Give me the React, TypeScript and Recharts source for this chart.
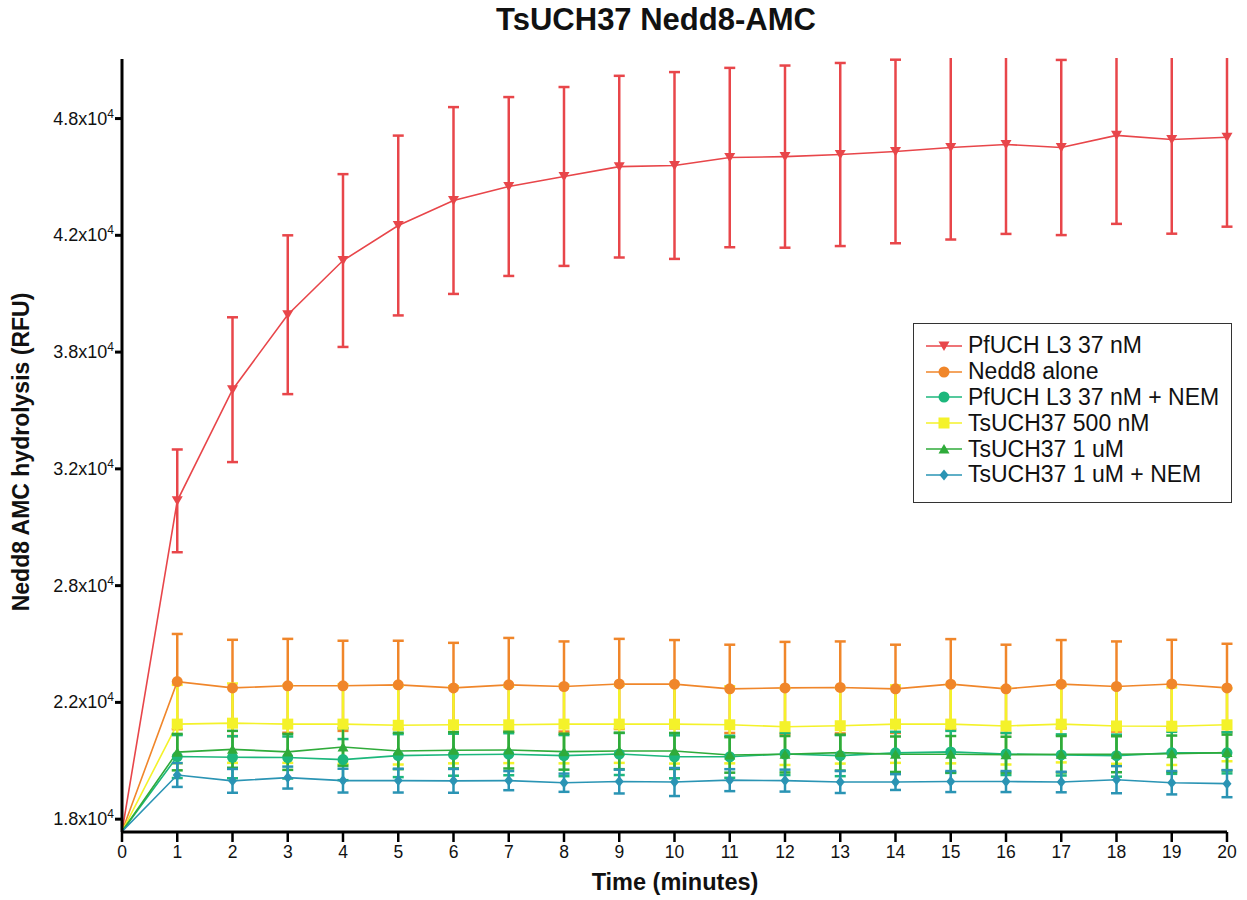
import React from 'react';
import { LineChart, Line, XAxis, YAxis, ErrorBar } from 'recharts';

// time points (minutes)
const minutes = [0, 1, 2, 3, 4, 5, 6, 7, 8, 9, 10, 11, 12, 13, 14, 15, 16, 17, 18, 19, 20];

// PfUCH L3 37 nM
const pfuchMean = [17470, 31630, 36390, 39600, 41920, 43420, 44490, 45090, 45520, 45940, 45990, 46330, 46370, 46460, 46590, 46760, 46890, 46760, 47280, 47100, 47200];
const pfuchSd = [null, 2200, 3100, 3400, 3700, 3850, 4000, 3830, 3830, 3890, 4000, 3840, 3900, 3920, 3930, 3940, 3830, 3750, 3790, 4030, 3830];

// Nedd8 alone
const nedd8Mean = [17470, 23890, 23620, 23710, 23710, 23750, 23620, 23750, 23680, 23790, 23780, 23580, 23620, 23640, 23580, 23780, 23580, 23780, 23680, 23790, 23620];
const nedd8Sd = [null, 2040, 2060, 2010, 1930, 1890, 1930, 2010, 1930, 1930, 1890, 1890, 1970, 1970, 1890, 1930, 1890, 1890, 1930, 1890, 1890];

// PfUCH L3 37 nM + NEM
const pfuchNemMean = [17470, 20680, 20650, 20640, 20550, 20720, 20760, 20780, 20720, 20790, 20670, 20670, 20790, 20720, 20840, 20880, 20790, 20750, 20720, 20840, 20840];
const pfuchNemSd = [null, 920, 900, 900, 880, 920, 900, 900, 880, 900, 920, 900, 900, 880, 900, 900, 900, 880, 900, 900, 880];

// TsUCH37 500 nM
const ts500Mean = [17470, 22070, 22110, 22070, 22070, 22020, 22040, 22040, 22070, 22070, 22070, 22040, 21960, 22000, 22070, 22070, 21990, 22070, 21990, 21980, 22040];
const ts500Sd = [null, 1680, 1700, 1660, 1700, 1680, 1650, 1640, 1680, 1660, 1690, 1650, 1640, 1620, 1660, 1680, 1650, 1640, 1620, 1660, 1560];

// TsUCH37 1 uM
const ts1Mean = [17470, 20870, 20990, 20880, 21090, 20920, 20950, 20960, 20890, 20920, 20920, 20750, 20780, 20850, 20780, 20780, 20760, 20780, 20780, 20800, 20850];
const ts1Sd = [null, 780, 790, 770, 800, 780, 780, 790, 770, 780, 770, 760, 780, 770, 760, 780, 770, 780, 770, 780, 770];

// TsUCH37 1 uM + NEM
const ts1NemMean = [17470, 19890, 19640, 19780, 19650, 19650, 19640, 19650, 19560, 19610, 19590, 19670, 19650, 19590, 19590, 19610, 19610, 19590, 19690, 19560, 19520];
const ts1NemSd = [null, 510, 510, 470, 510, 510, 510, 410, 390, 510, 600, 470, 470, 470, 340, 450, 450, 440, 580, 500, 580];

const yTicks = [18000, 23000, 28000, 33000, 38000, 43000, 48000];
const yTickLabels = ['1.8', '2.2', '2.8', '3.2', '3.8', '4.2', '4.8'];

const chartData = minutes.map((t, i) => ({
  t,
  pfuch: pfuchMean[i],
  pfuchSd: pfuchSd[i],
  nedd8: nedd8Mean[i],
  nedd8Sd: nedd8Sd[i],
  pfuchNem: pfuchNemMean[i],
  pfuchNemSd: pfuchNemSd[i],
  ts500: ts500Mean[i],
  ts500Sd: ts500Sd[i],
  ts1: ts1Mean[i],
  ts1Sd: ts1Sd[i],
  ts1Nem: ts1NemMean[i],
  ts1NemSd: ts1NemSd[i],
}));

const FONT = '"Liberation Sans", Arial, Helvetica, sans-serif';

const RED = '#e8464a';
const ORANGE = '#f0862a';
const TEAL = '#1cb77c';
const YELLOW = '#f4f22a';
const GREEN = '#2fab3a';
const BLUE = '#2a94b4';

type Shape = 'down' | 'circle' | 'square' | 'up' | 'diamond';

function marker(shape: Shape, cx: number, cy: number, color: string, key?: string | number) {
  switch (shape) {
    case 'down':
      return <path key={key} d={`M${cx - 5.5},${cy - 4.5}L${cx + 5.5},${cy - 4.5}L${cx},${cy + 5}Z`} fill={color} />;
    case 'up':
      return <path key={key} d={`M${cx - 5.5},${cy + 4.5}L${cx + 5.5},${cy + 4.5}L${cx},${cy - 5}Z`} fill={color} />;
    case 'square':
      return <rect key={key} x={cx - 5.5} y={cy - 5.5} width={11} height={11} fill={color} />;
    case 'diamond':
      return <path key={key} d={`M${cx},${cy - 5.5}L${cx + 4.5},${cy}L${cx},${cy + 5.5}L${cx - 4.5},${cy}Z`} fill={color} />;
    default:
      return <circle key={key} cx={cx} cy={cy} r={5.5} fill={color} />;
  }
}

// no symbol at t = 0 (the curves start on the axis corner)
const dotFor = (shape: Shape, color: string) => (props: any) => {
  const { cx, cy, index } = props;
  if (index === 0 || cx == null || cy == null) return <g key={`d-${index}`} />;
  return marker(shape, cx, cy, color, `d-${index}`);
};

const legendItems: { name: string; color: string; shape: Shape }[] = [
  { name: 'PfUCH L3 37 nM', color: RED, shape: 'down' },
  { name: 'Nedd8 alone', color: ORANGE, shape: 'circle' },
  { name: 'PfUCH L3 37 nM + NEM', color: TEAL, shape: 'circle' },
  { name: 'TsUCH37 500 nM', color: YELLOW, shape: 'square' },
  { name: 'TsUCH37 1 uM', color: GREEN, shape: 'up' },
  { name: 'TsUCH37 1 uM + NEM', color: BLUE, shape: 'diamond' },
];

function LegendBox() {
  return (
    <div
      style={{
        position: 'absolute',
        left: 913,
        top: 323,
        width: 319,
        height: 180,
        boxSizing: 'border-box',
        border: '1.5px solid #333',
        background: '#fff',
        paddingTop: 9,
        fontFamily: FONT,
      }}
    >
      {legendItems.map(it => (
        <div key={it.name} style={{ display: 'flex', alignItems: 'center', height: 25.8 }}>
          <svg width={54} height={16} style={{ marginLeft: 10, flex: 'none' }}>
            <line x1={2} y1={8} x2={38} y2={8} stroke={it.color} strokeWidth={1.5} />
            {marker(it.shape, 20, 8, it.color)}
          </svg>
          <span style={{ fontSize: 23, color: '#111', lineHeight: '23px', whiteSpace: 'nowrap', marginLeft: -10 }}>{it.name}</span>
        </div>
      ))}
    </div>
  );
}

function YTick(props: any) {
  const { x, y, payload } = props;
  const idx = yTicks.indexOf(payload.value);
  const label = idx >= 0 ? yTickLabels[idx] : '';
  return (
    <text x={x} y={y + 6} textAnchor="end" fontSize={18} fill="#111" fontFamily={FONT}>
      {label}x10
      <tspan dy={-7} fontSize={12}>4</tspan>
    </text>
  );
}

function XTick(props: any) {
  const { x, y, payload } = props;
  return (
    <text x={x} y={y + 14} textAnchor="middle" fontSize={17.5} fill="#111" fontFamily={FONT}>
      {payload.value}
    </text>
  );
}

export default function App() {
  return (
    <div style={{ position: 'absolute', left: 0, top: 0, width: 1247, height: 900, background: '#fff', fontFamily: FONT }}>
      <LineChart
        width={1247}
        height={900}
        data={chartData}
        margin={{ top: 59, right: 20, bottom: 0, left: 0 }}
        style={{ position: 'absolute', left: 0, top: 0 }}
      >
        <XAxis
          dataKey="t"
          type="number"
          domain={[0, 20]}
          ticks={minutes}
          interval={0}
          height={68}
          axisLine={{ stroke: '#000', strokeWidth: 3 }}
          tickLine={{ stroke: '#000', strokeWidth: 2.5 }}
          tickSize={10}
          tick={<XTick />}
        />
        <YAxis
          type="number"
          domain={[17450, 50550]}
          allowDataOverflow
          ticks={yTicks}
          width={122}
          axisLine={{ stroke: '#000', strokeWidth: 3 }}
          tickLine={{ stroke: '#000', strokeWidth: 3 }}
          tickSize={7}
          tickMargin={1}
          tick={<YTick />}
        />
        <Line
          dataKey="pfuch"
          name="PfUCH L3 37 nM"
          stroke={RED}
          strokeWidth={1.6}
          dot={dotFor('down', RED)}
          activeDot={false}
          isAnimationActive={false}
        >
          <ErrorBar dataKey="pfuchSd" stroke={RED} strokeWidth={2.5} width={5.5} direction="y" />
        </Line>
        <Line
          dataKey="nedd8"
          name="Nedd8 alone"
          stroke={ORANGE}
          strokeWidth={1.6}
          dot={dotFor('circle', ORANGE)}
          activeDot={false}
          isAnimationActive={false}
        >
          <ErrorBar dataKey="nedd8Sd" stroke={ORANGE} strokeWidth={2.5} width={5.5} direction="y" />
        </Line>
        <Line
          dataKey="ts500"
          name="TsUCH37 500 nM"
          stroke={YELLOW}
          strokeWidth={1.6}
          dot={dotFor('square', YELLOW)}
          activeDot={false}
          isAnimationActive={false}
        >
          <ErrorBar dataKey="ts500Sd" stroke={YELLOW} strokeWidth={2.5} width={5.5} direction="y" />
        </Line>
        <Line
          dataKey="pfuchNem"
          name="PfUCH L3 37 nM + NEM"
          stroke={TEAL}
          strokeWidth={1.6}
          dot={dotFor('circle', TEAL)}
          activeDot={false}
          isAnimationActive={false}
        >
          <ErrorBar dataKey="pfuchNemSd" stroke={TEAL} strokeWidth={2.5} width={5.5} direction="y" />
        </Line>
        <Line
          dataKey="ts1"
          name="TsUCH37 1 uM"
          stroke={GREEN}
          strokeWidth={1.6}
          dot={dotFor('up', GREEN)}
          activeDot={false}
          isAnimationActive={false}
        >
          <ErrorBar dataKey="ts1Sd" stroke={GREEN} strokeWidth={2.5} width={5.5} direction="y" />
        </Line>
        <Line
          dataKey="ts1Nem"
          name="TsUCH37 1 uM + NEM"
          stroke={BLUE}
          strokeWidth={1.6}
          dot={dotFor('diamond', BLUE)}
          activeDot={false}
          isAnimationActive={false}
        >
          <ErrorBar dataKey="ts1NemSd" stroke={BLUE} strokeWidth={2.5} width={5.5} direction="y" />
        </Line>
      </LineChart>
      {/* mask anything drawn above the plot area (error bars run past the top of the axis) */}
      <div style={{ position: 'absolute', left: 124, top: 0, width: 1123, height: 57.5, background: '#fff' }} />
      <div
        style={{
          position: 'absolute',
          left: 456,
          width: 400,
          top: 2,
          textAlign: 'center',
          fontSize: 31,
          fontWeight: 'bold',
          color: '#111',
        }}
      >
        TsUCH37 Nedd8-AMC
      </div>
      <div
        style={{
          position: 'absolute',
          left: 21,
          top: 452,
          transform: 'translate(-50%, -50%) rotate(-90deg)',
          fontSize: 23,
          fontWeight: 'bold',
          color: '#111',
          whiteSpace: 'nowrap',
        }}
      >
        Nedd8 AMC hydrolysis (RFU)
      </div>
      <div
        style={{
          position: 'absolute',
          left: 475,
          width: 400,
          top: 869,
          textAlign: 'center',
          fontSize: 23.5,
          fontWeight: 'bold',
          color: '#111',
        }}
      >
        Time (minutes)
      </div>
      <LegendBox />
    </div>
  );
}
